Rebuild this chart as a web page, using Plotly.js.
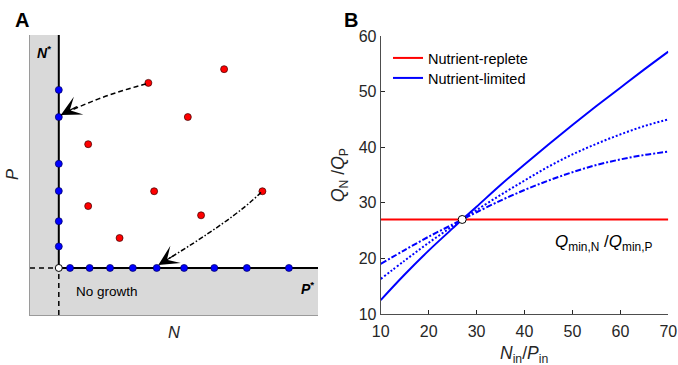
<!DOCTYPE html>
<html><head><meta charset="utf-8">
<script src="https://cdn.plot.ly/plotly-3.0.1.min.js"></script>
<style>html,body{margin:0;padding:0;background:#fff}#chart{width:678px;height:365px}</style>
</head><body><div id="chart"></div>
<script>
// ---------------- Panel A : schematic in (N, P) space ----------------
const nStar = 1.0;
const pStar = 1.68;
const axisMaxA = 10;
const nLineP = [8.04, 7.07, 5.40, 4.43, 3.35, 2.45];                       // blue points on the N* line (P values)
const pLineN = [1.39, 2.07, 2.78, 3.57, 4.40, 5.35, 6.40, 7.53, 8.99];     // blue points on the P* line (N values)
const repleteN = [6.74, 4.11, 5.48, 2.02, 4.31, 8.07, 2.02, 5.94, 3.11];   // red points
const repleteP = [8.78, 8.29, 7.07, 6.10, 4.42, 4.42, 3.89, 3.56, 2.75];
const arrowDashN = [4.03, 2.53, 1.07];     // start, control, tip
const arrowDashP = [8.25, 7.86, 7.14];
const arrowDashDotN = [8.02, 7.07, 4.455];
const arrowDashDotP = [4.38, 3.40, 1.79];

// ---------------- Panel B : Q_N/Q_P vs N_in/P_in ----------------
const ratioIn = [10, 15, 20, 25, 27, 30, 35, 40, 45, 50, 55, 60, 65, 70];
const limitedSolid   = [12.5, 17.1, 21.4, 25.4, 27, 29.3, 33.2, 36.9, 40.5, 44.0, 47.4, 50.7, 54.0, 57.2];
const limitedDotted  = [16.3, 19.6, 22.8, 25.8, 27, 28.7, 31.4, 34.0, 36.5, 38.7, 40.6, 42.3, 43.8, 45.0];
const limitedDashDot = [19.0, 21.5, 23.9, 26.1, 27, 28.3, 30.4, 32.3, 34.0, 35.5, 36.8, 37.8, 38.6, 39.2];
const repleteRatio = 27;
const crossPoint = [27, 27];
const xTicksB = [10, 20, 30, 40, 50, 60, 70];
const yTicksB = [10, 20, 30, 40, 50, 60];

const W = 678, H = 365;
const px = p => p / W;
const py = p => 1 - p / H;
const FONT = 'Liberation Sans, Arial, Helvetica, sans-serif';
const DARK = '#262626';

const A = {xaxis: 'x', yaxis: 'y', showlegend: false, hoverinfo: 'skip'};
const traces = [
  Object.assign({type: 'scatter', mode: 'lines', x: [0, nStar], y: [pStar, pStar],
    line: {color: '#000', width: 1.5, dash: '5px,4px'}}, A),
  Object.assign({type: 'scatter', mode: 'lines', x: [nStar, nStar], y: [0, pStar],
    line: {color: '#000', width: 1.5, dash: '5px,4px'}}, A),
  Object.assign({type: 'scatter', mode: 'lines', x: [nStar, nStar], y: [pStar, axisMaxA],
    line: {color: '#000', width: 2}}, A),
  Object.assign({type: 'scatter', mode: 'lines', x: [nStar, axisMaxA], y: [pStar, pStar],
    line: {color: '#000', width: 2}}, A),
  Object.assign({type: 'scatter', mode: 'markers', x: nLineP.map(() => nStar), y: nLineP,
    marker: {size: 7, color: '#0000ff', line: {color: '#00005a', width: 0.7}}}, A),
  Object.assign({type: 'scatter', mode: 'markers', x: pLineN, y: pLineN.map(() => pStar),
    marker: {size: 7, color: '#0000ff', line: {color: '#00005a', width: 0.7}}}, A),
  Object.assign({type: 'scatter', mode: 'markers', x: repleteN, y: repleteP,
    marker: {size: 7, color: '#ff0000', line: {color: '#3a0000', width: 0.7}}}, A),
  Object.assign({type: 'scatter', mode: 'markers', x: [nStar], y: [pStar],
    marker: {size: 7, color: '#ffffff', line: {color: '#000', width: 1}}}, A),

  {type: 'scatter', mode: 'lines', x: ratioIn, y: ratioIn.map(() => repleteRatio), xaxis: 'x2', yaxis: 'y2',
    name: 'Nutrient-replete', legend: 'legend', line: {color: '#ff0000', width: 2}},
  {type: 'scatter', mode: 'lines', x: ratioIn, y: limitedSolid, xaxis: 'x2', yaxis: 'y2',
    name: 'Nutrient-limited', legend: 'legend2', line: {color: '#0000ff', width: 2, shape: 'spline'}},
  {type: 'scatter', mode: 'lines', x: ratioIn, y: limitedDotted, xaxis: 'x2', yaxis: 'y2', showlegend: false,
    line: {color: '#0000ff', width: 2, dash: '2px,2px', shape: 'spline'}},
  {type: 'scatter', mode: 'lines', x: ratioIn, y: limitedDashDot, xaxis: 'x2', yaxis: 'y2', showlegend: false,
    line: {color: '#0000ff', width: 2, dash: '6px,2px,2px,2px', shape: 'spline'}},
  {type: 'scatter', mode: 'markers', x: [crossPoint[0]], y: [crossPoint[1]], xaxis: 'x2', yaxis: 'y2', showlegend: false,
    marker: {size: 8, color: '#ffffff', line: {color: '#000', width: 1}}}
];

const quadPath = (xs, ys) => `M ${xs[0]},${ys[0]} Q ${xs[1]},${ys[1]} ${xs[2]},${ys[2]}`;

const shapes = [
  {type: 'rect', xref: 'x', yref: 'y', x0: 0, x1: nStar, y0: pStar, y1: axisMaxA,
    fillcolor: '#d9d9d9', line: {width: 0}, layer: 'below'},
  {type: 'rect', xref: 'x', yref: 'y', x0: 0, x1: axisMaxA, y0: 0, y1: pStar,
    fillcolor: '#d9d9d9', line: {width: 0}, layer: 'below'},
  {type: 'path', xref: 'x', yref: 'y', path: quadPath(arrowDashN, arrowDashP),
    line: {color: '#000', width: 1.5, dash: '5px,3px'}},
  {type: 'path', xref: 'x', yref: 'y', path: quadPath(arrowDashDotN, arrowDashDotP),
    line: {color: '#000', width: 1.5, dash: '5px,2px,1.5px,2px'}}
];

const head = (xs, ys, ax, ay) => ({xref: 'x', yref: 'y', x: xs[2], y: ys[2], ax: ax, ay: ay, text: '',
  showarrow: true, arrowhead: 3, arrowsize: 2.8, arrowwidth: 1.2, arrowcolor: '#000'});

const annotations = [
  head(arrowDashN, arrowDashP, 17.6, -9.4),
  head(arrowDashDotN, arrowDashDotP, 17.1, -10.3),
  {xref: 'paper', yref: 'paper', x: px(13), y: py(20), xanchor: 'left', yanchor: 'middle', showarrow: false,
    text: '<b>A</b>', font: {family: FONT, size: 20, color: '#000'}},
  {xref: 'paper', yref: 'paper', x: px(342), y: py(20), xanchor: 'left', yanchor: 'middle', showarrow: false,
    text: '<b>B</b>', font: {family: FONT, size: 20, color: '#000'}},
  {xref: 'paper', yref: 'paper', x: px(35), y: py(52), xanchor: 'left', yanchor: 'middle', showarrow: false,
    text: '<b><i>N</i><sup>*</sup></b>', font: {family: FONT, size: 14, color: '#000'}},
  {xref: 'paper', yref: 'paper', x: px(316), y: py(288), xanchor: 'right', yanchor: 'middle', showarrow: false,
    text: '<b><i>P</i><sup>*</sup></b>', font: {family: FONT, size: 14, color: '#000'}},
  {xref: 'paper', yref: 'paper', x: px(74), y: py(291), xanchor: 'left', yanchor: 'middle', showarrow: false,
    text: 'No growth', font: {family: FONT, size: 13.5, color: '#000'}},
  {xref: 'paper', yref: 'paper', x: px(174), y: py(332), xanchor: 'center', yanchor: 'middle', showarrow: false,
    text: '<i>N</i>', font: {family: FONT, size: 16.5, color: DARK}},
  {xref: 'paper', yref: 'paper', x: px(12), y: py(175), xanchor: 'center', yanchor: 'middle', showarrow: false,
    textangle: -90, text: '<i>P</i>', font: {family: FONT, size: 16.5, color: DARK}},
  {xref: 'paper', yref: 'paper', x: px(524), y: py(354), xanchor: 'center', yanchor: 'middle', showarrow: false,
    text: '<i>N</i><sub>in</sub>/<i>P</i><sub>in</sub>', font: {family: FONT, size: 17.5, color: DARK}},
  {xref: 'paper', yref: 'paper', x: px(340), y: py(175), xanchor: 'center', yanchor: 'middle', showarrow: false,
    textangle: -90, text: '<i>Q</i><sub>N</sub> /<i>Q</i><sub>P</sub>', font: {family: FONT, size: 17.5, color: DARK}},
  {xref: 'paper', yref: 'paper', x: px(553), y: py(243), xanchor: 'left', yanchor: 'middle', showarrow: false,
    text: '<i>Q</i><sub>min,N</sub> /<i>Q</i><sub>min,P</sub>', font: {family: FONT, size: 17, color: '#000'}}
];

const legendBase = {xanchor: 'left', yanchor: 'top', bgcolor: 'rgba(255,255,255,0)',
  borderwidth: 0, font: {family: FONT, size: 14.5, color: '#000'}, tracegroupgap: 0};

const layout = {
  width: W, height: H,
  margin: {l: 0, r: 0, t: 0, b: 0},
  paper_bgcolor: '#ffffff', plot_bgcolor: 'rgba(0,0,0,0)',
  font: {family: FONT, color: DARK},
  showlegend: true,
  legend: Object.assign({x: px(388), y: py(42)}, legendBase),
  legend2: Object.assign({x: px(388), y: py(62)}, legendBase),
  xaxis: {domain: [px(30), px(318)], range: [0, axisMaxA], anchor: 'y', showgrid: false, zeroline: false,
    showticklabels: false, ticks: '', showline: true, linecolor: '#9a9a9a', linewidth: 1, fixedrange: true},
  yaxis: {domain: [py(315), py(35)], range: [0, axisMaxA], anchor: 'x', showgrid: false, zeroline: false,
    showticklabels: false, ticks: '', showline: true, linecolor: '#9a9a9a', linewidth: 1, fixedrange: true},
  xaxis2: {domain: [px(380.7), px(668.3)], range: [10, 70], anchor: 'y2', showgrid: false, zeroline: false,
    tickvals: xTicksB, ticktext: xTicksB.map(String), ticks: 'inside', ticklen: 4, tickcolor: DARK,
    ticklabelstandoff: 3,
    showline: true, linecolor: '#4d4d4d', linewidth: 1, tickfont: {family: FONT, size: 16, color: DARK}},
  yaxis2: {domain: [py(314), py(36)], range: [10, 60], anchor: 'x2', showgrid: false, zeroline: false,
    tickvals: yTicksB, ticktext: yTicksB.map(String), ticks: 'inside', ticklen: 4, tickcolor: DARK,
    showline: true, linecolor: '#4d4d4d', linewidth: 1, tickfont: {family: FONT, size: 16, color: DARK}},
  shapes: shapes,
  annotations: annotations
};

Plotly.newPlot('chart', traces, layout, {displayModeBar: false, staticPlot: true});
</script>
</body></html>
